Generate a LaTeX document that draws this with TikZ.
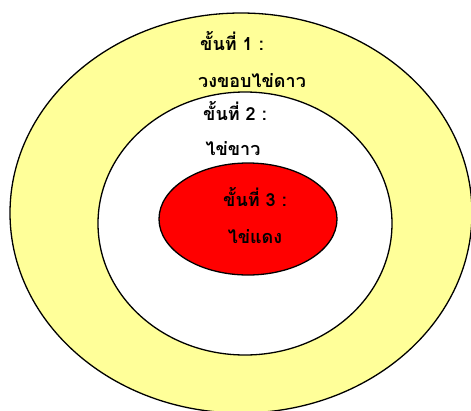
\documentclass[tikz,border=0pt]{standalone}
\usepackage{fontspec}
\newfontfamily\thaifont[Script=Thai]{Loma}
\usetikzlibrary{shapes.geometric}
\definecolor{yolkred}{HTML}{FF0000}
\definecolor{rimyellow}{HTML}{FFFF99}
\begin{document}
\begin{tikzpicture}[x=1pt,y=-1pt,font=\thaifont\bfseries\fontsize{18}{21}\selectfont]
\tikzset{ring/.style={draw=black,ellipse,line width=1.3pt,inner sep=0pt}}
\tikzset{lbl/.style={anchor=base,inner sep=0pt}}
\useasboundingbox (0,0) rectangle (471,410);
\node[ring,fill=rimyellow,minimum width=462,minimum height=400] (rim) at (241,213) {};
\node[ring,fill=white,minimum width=294,minimum height=263] (white) at (245,223.5) {};
\node[ring,fill=yolkred,minimum width=178,minimum height=112] (yolk) at (248,219) {};
\node[lbl] (t1) at (232,50) {ขั้นที่ 1 :};
\node[lbl] (n1) at (252,87) {วงขอบไข่ดาว};
\node[lbl] (t2) at (235,120) {ขั้นที่ 2 :};
\node[lbl] (n2) at (233,155) {ไข่ขาว};
\node[lbl] (t3) at (255,206) {ขั้นที่ 3 :};
\node[lbl] (n3) at (255,243) {ไข่แดง};
\end{tikzpicture}
\end{document}
